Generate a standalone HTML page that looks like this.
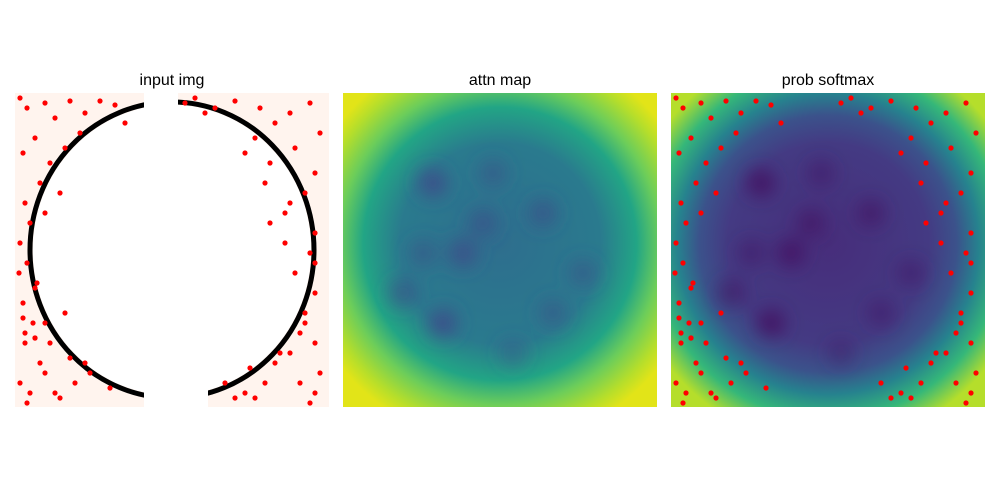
<!DOCTYPE html>
<html><head><meta charset="utf-8"><style>
body{margin:0;background:#fff;font-family:"Liberation Sans","DejaVu Sans",sans-serif}
svg{display:block}
</style></head><body>
<svg width="1000" height="500" xmlns="http://www.w3.org/2000/svg">
<defs>
<filter id="blur" x="-20%" y="-20%" width="140%" height="140%"><feGaussianBlur stdDeviation="9"/></filter>
<radialGradient id="g2" cx="50%" cy="48%" r="64%">
<stop offset="0" stop-color="#2e6e8e"/><stop offset="0.5" stop-color="#2a7a8e"/><stop offset="0.68" stop-color="#22a585"/><stop offset="0.8" stop-color="#6ccd5a"/><stop offset="0.92" stop-color="#b5de2b"/><stop offset="1" stop-color="#e2e418"/>
</radialGradient>
<radialGradient id="g3" cx="50%" cy="48%" r="64%">
<stop offset="0" stop-color="#472d7b"/><stop offset="0.5" stop-color="#443a83"/><stop offset="0.64" stop-color="#3b528b"/><stop offset="0.75" stop-color="#26828e"/><stop offset="0.87" stop-color="#35b779"/><stop offset="1" stop-color="#b5de2b"/>
</radialGradient>
<clipPath id="c2"><rect x="343" y="93" width="314" height="314"/></clipPath>
<clipPath id="c3"><rect x="671" y="93" width="314" height="314"/></clipPath>
<clipPath id="c1"><rect x="15" y="93" width="314" height="314"/></clipPath>
</defs>
<text x="172" y="85" text-anchor="middle" font-size="16">input img</text>
<text x="500" y="85" text-anchor="middle" font-size="16">attn map</text>
<text x="828" y="85" text-anchor="middle" font-size="16">prob softmax</text>

<g clip-path="url(#c1)">
<rect x="15" y="93" width="314" height="314" fill="#fff4ee"/>
<ellipse cx="172" cy="250" rx="142" ry="148" fill="none" stroke="#000" stroke-width="5"/>
<ellipse cx="172" cy="250" rx="139" ry="145" fill="#fff"/>
<rect x="144" y="88" width="34" height="30" fill="#fff"/>
<rect x="144" y="384" width="64" height="30" fill="#fff"/>
<g id="dots1"></g>
</g>

<g clip-path="url(#c2)">
<rect x="343" y="93" width="314" height="314" fill="url(#g2)"/>
<g filter="url(#blur)" id="blobs2"></g>
</g>

<g clip-path="url(#c3)">
<rect x="671" y="93" width="314" height="314" fill="url(#g3)"/>
<g filter="url(#blur)" id="blobs3"></g>
<g id="dots3"></g>
</g>
</svg>
<script>
// dot positions in image pixel coords (0..314)
const dotsX = [5,12,30,40,55,70,65,20,8,35,50,25,10,15,30,45,5,12,22,8,18,4,10,25,5,15,30,12,8,20,40,60,70,55,35,20,10,30,50,85,100,110,75,95,20,45,
  170,190,220,245,260,275,295,305,230,255,280,300,290,270,250,240,300,295,280,270,300,290,285,275,305,300,295,285,300,260,250,240,230,220,210,235,265,290,300,255,275,180,200];
const dotsY = [5,15,10,25,8,20,40,45,60,70,55,90,110,130,120,100,150,170,190,210,230,180,250,270,290,300,280,310,225,245,300,290,270,265,250,245,240,230,220,8,12,30,280,295,195,305,
  10,20,8,15,30,20,10,40,60,70,55,80,100,120,90,45,140,160,180,150,200,220,240,260,280,300,310,290,250,270,290,305,300,305,290,275,260,230,170,130,110,5,15];
const blobX = [90,150,200,120,60,240,100,170,210,140,80];
const blobY = [90,80,120,160,200,180,230,260,220,130,160];
const blobV = [0.9,0.5,0.6,0.8,0.6,0.5,0.9,0.4,0.5,0.6,0.5];
const NS='http://www.w3.org/2000/svg';
function mk(t,a){const e=document.createElementNS(NS,t);for(const k in a)e.setAttribute(k,a[k]);return e;}
const d1=document.getElementById('dots1'), d3=document.getElementById('dots3');
dotsX.forEach((x,i)=>{
  const c=mk('circle',{cx:15+x,cy:93+dotsY[i],r:2.6,fill:'#f00'});
  
  
  d1.appendChild(c);
  const c3=mk('circle',{cx:671+x,cy:93+dotsY[i],r:2.6,fill:'#f00'});
  
  
  d3.appendChild(c3);
});
const b2=document.getElementById('blobs2'), b3=document.getElementById('blobs3');
blobX.forEach((x,i)=>{
  const e=mk('circle',{cx:343+x,cy:93+blobY[i],r:14,fill:'#3e4a89','fill-opacity':blobV[i]});
  
  
  b2.appendChild(e);
  const f=mk('circle',{cx:671+x,cy:93+blobY[i],r:14,fill:'#440154','fill-opacity':blobV[i]*0.7});
  
  
  b3.appendChild(f);
});
</script>
</body></html>
